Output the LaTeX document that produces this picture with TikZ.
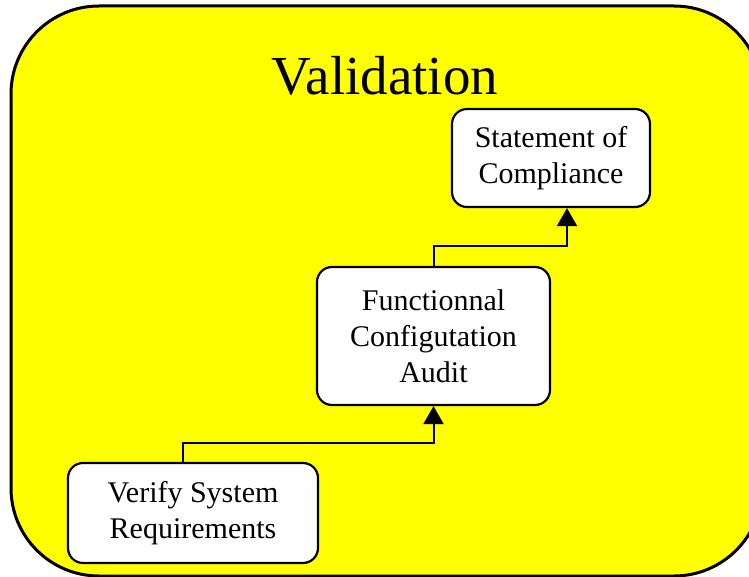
\documentclass[tikz,border=0pt]{standalone}
\usepackage{fontspec}
\setmainfont{Liberation Serif}
\usetikzlibrary{positioning,calc,arrows.meta}
\definecolor{valyellow}{RGB}{255,255,0}

\begin{document}
\begin{tikzpicture}[x=1pt,y=-1pt]
    \tikzstyle{task}=[rectangle,
                      draw=black,
                      line width=2.2pt,
                      rounded corners=15pt,
                      fill=white,
                      align=center,
                      inner sep=0pt,
                      font=\fontsize{30}{36}\selectfont,
                      text=black]
    \tikzset{linkstyle/.style={-{Triangle[width=20pt,length=18pt]},
                               line width=2pt}}

    \useasboundingbox (0,0) rectangle (749,577);
    \path[draw=black,line width=3pt,fill=valyellow,rounded corners=88pt]
        (11,6) rectangle (762,576);

    \node[anchor=base,font=\fontsize{55}{60}\selectfont] (title) at (385,95) {Validation};

    \node[task,minimum width=198pt,minimum height=98pt]  (soc) at (551,158)   {Statement of\\Compliance};
    \node[task,minimum width=233pt,minimum height=138pt] (fca) at (433.5,336) {Functionnal\\Configutation\\Audit};
    \node[task,minimum width=250pt,minimum height=100pt] (vsr) at (193,513)   {Verify System\\Requirements};

    \draw[linkstyle] ([xshift=-10pt]vsr.north) -- ++(0,-19) -| (fca.south);
    \draw[linkstyle] (fca.north) -- ++(0,-20) -| ([xshift=16pt]soc.south);
\end{tikzpicture}
\end{document}
